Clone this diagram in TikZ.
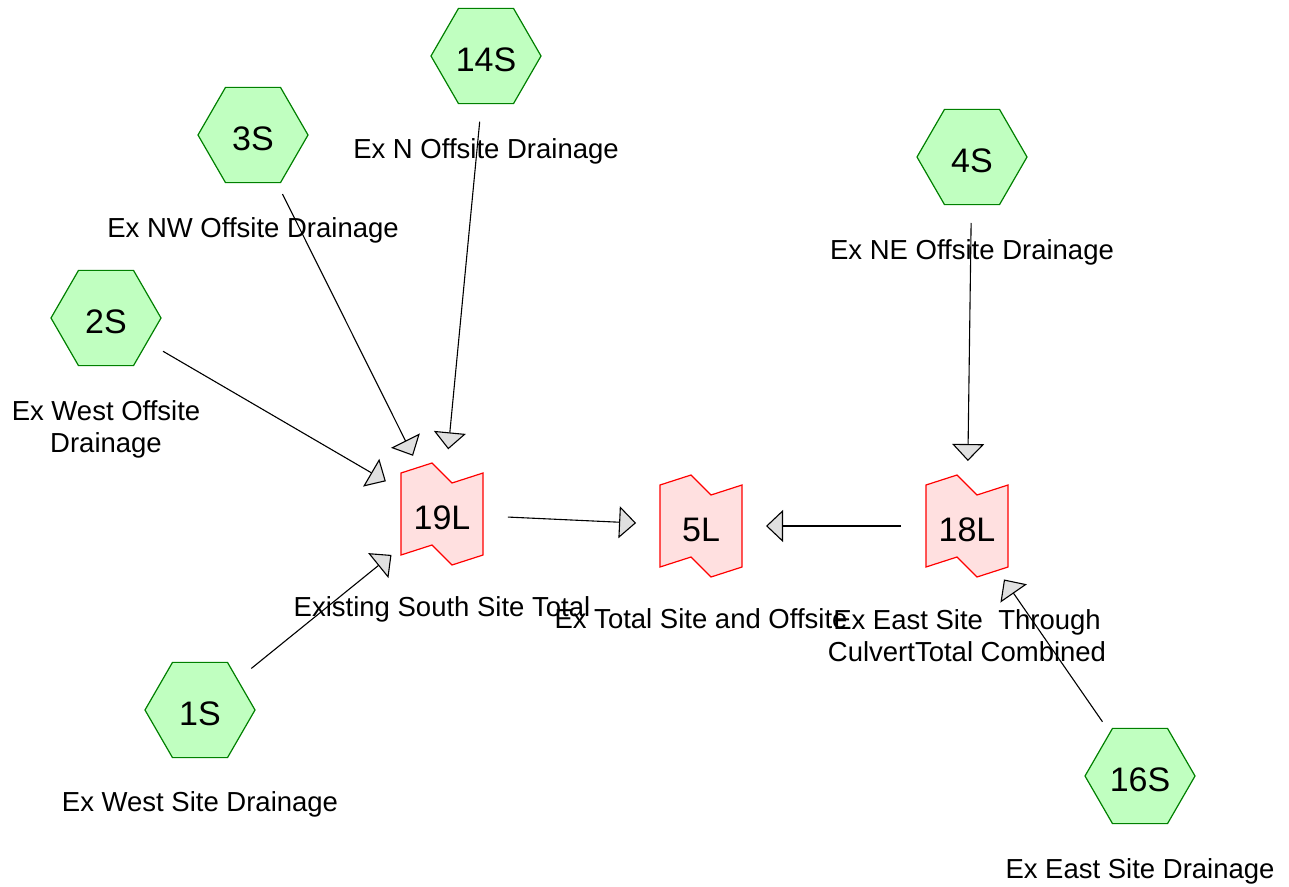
\documentclass[tikz,border=0pt]{standalone}
\usepackage{fontspec}
\setmainfont{Liberation Sans}
\usetikzlibrary{arrows.meta,calc,shapes.geometric,positioning}
\definecolor{hexfill}{HTML}{C0FFC0}
\definecolor{hexline}{HTML}{008000}
\definecolor{pondfill}{HTML}{FFE0E0}
\definecolor{headfill}{HTML}{E0E0E0}

\begin{document}
\begin{tikzpicture}[x=1pt,y=-1pt, hexnode/.style={regular polygon,regular polygon sides=6,minimum size=110pt,inner sep=0pt,text height=31pt,text depth=0pt,draw=hexline,fill=hexfill,line width=1.2pt,font=\fontsize{34}{40}\selectfont},linknode/.style={inner sep=0pt,text height=31pt,text depth=0pt,font=\fontsize{34}{40}\selectfont}, linkline/.style={draw=red,fill=pondfill,line width=1.2pt},labeltext/.style={inner sep=0pt,align=center,font=\fontsize{27.5}{32.3}\selectfont},arrowstyle/.style={-{Triangle[length=17pt,width=32pt,fill=headfill]},line width=1.1pt,shorten <=66pt,shorten >=65pt}]

 \useasboundingbox (0,0) rectangle (1289,886);

 \coordinate (p19) at (442,514);
 \coordinate (p5) at (701,526);
 \coordinate (p18) at (967,526);

\foreach \p in {p19,p5,p18}
    \draw[linkline,shift={(\p)}] (-41,-41) -- (-10,-51) -- (10,-31) -- (41,-41) -- (41,41) -- (10,51) -- (-10,31) -- (-41,41) -- cycle;

 \node[linknode] (n19) at (p19) {19L};
 \node[linknode] (n5) at (p5) {5L};
 \node[linknode] (n18) at (p18) {18L};

 \node[hexnode] (n14) at (486,56) {14S};
 \node[hexnode] (n3) at (253,135) {3S};
 \node[hexnode] (n4) at (972,157) {4S};
 \node[hexnode] (n2) at (106,318) {2S};
 \node[hexnode] (n1) at (200,710) {1S};
 \node[hexnode] (n16) at (1140,776) {16S};

	\node[labeltext,below=82pt of n14.center] (t14) {Ex N Offsite Drainage};
	\node[labeltext,below=82pt of n3.center] (t3) {Ex NW Offsite Drainage};
	\node[labeltext,below=82pt of n4.center] (t4) {Ex NE Offsite Drainage};
	\node[labeltext,below=82pt of n2.center] (t2) {Ex West Offsite\\Drainage};
	\node[labeltext,below=81pt of n1.center] (t1) {Ex West Site Drainage};
	\node[labeltext,below=82pt of n16.center] (t16) {Ex East Site Drainage};
	\node[labeltext,below=82pt of n19.center] (t19) {Existing South Site Total};
	\node[labeltext,below=82pt of n5.center] (t5) {Ex Total Site and Offsite};
	\node[labeltext,below=83pt of n18.center] (t18) {Ex East Site\ \ Through\\CulvertTotal Combined};

  \draw [arrowstyle](n14.center)--(n19.center);
  \draw [arrowstyle](n3.center)--(n19.center);
  \draw [arrowstyle](n2.center)--(n19.center);
  \draw [arrowstyle](n1.center)--(n19.center);
  \draw [arrowstyle](n19.center)--(n5.center);
  \draw [arrowstyle](n18.center)--(n5.center);
  \draw [arrowstyle](n4.center)--(n18.center);
  \draw [arrowstyle](n16.center)--(n18.center);
\end{tikzpicture}
\end{document}
